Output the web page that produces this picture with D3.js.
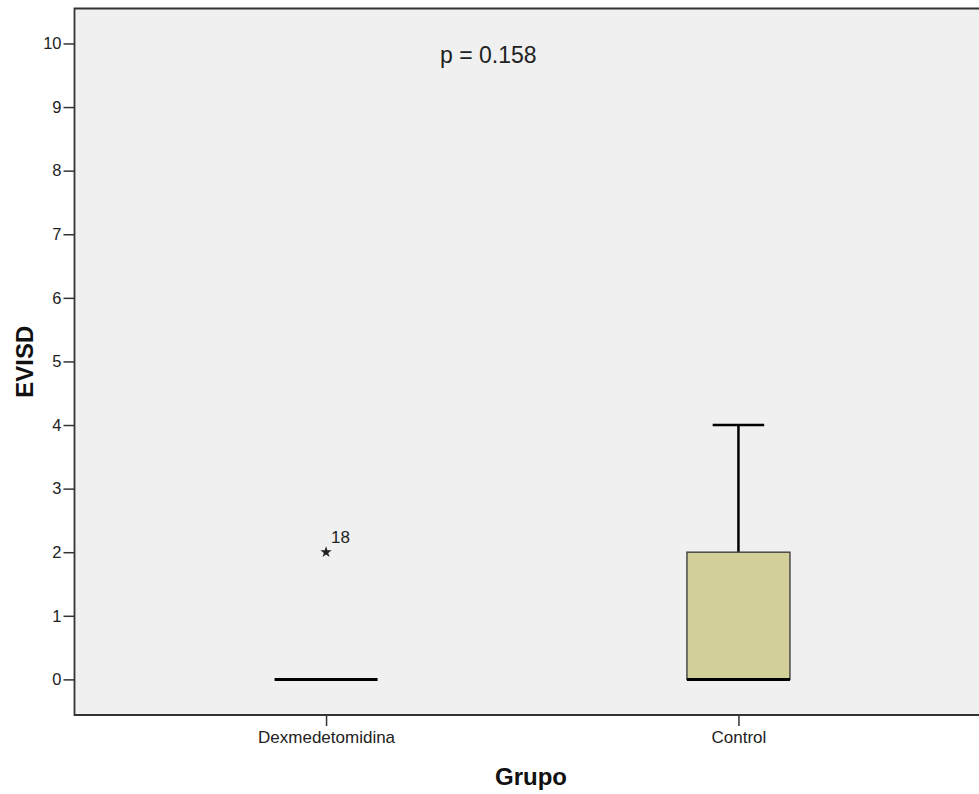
<!DOCTYPE html>
<html>
<head>
<meta charset="utf-8">
<script src="https://cdn.jsdelivr.net/npm/d3@7/dist/d3.min.js"></script>
<style>
  html, body { margin: 0; padding: 0; background: #ffffff; }
  svg { display: block; font-family: "Liberation Sans", Arial, sans-serif; }
</style>
</head>
<body>
<svg id="chart" width="979" height="794"></svg>
<script>
// Groups and their box-plot summaries (EVISD score)
const groups = ["Dexmedetomidina", "Control"];
const q1 = [0, 0];
const median = [0, 0];
const q3 = [0, 2];
const whiskerLow = [0, 0];
const whiskerHigh = [0, 4];
// Extreme values (group, value, case label)
const extremeGroup = ["Dexmedetomidina"];
const extremeValue = [2];
const extremeLabel = ["18"];
const yTicks = [0, 1, 2, 3, 4, 5, 6, 7, 8, 9, 10];
const pText = "p = 0.158";

const svg = d3.select("#chart");
const plot = { left: 74.5, top: 8.5, right: 990, bottom: 715 };

const x = d3.scalePoint().domain(groups).range([plot.left, plot.right]).padding(0.61);
const y = d3.scaleLinear().domain([-0.56, 10.55]).range([plot.bottom, plot.top]);

// plot background
svg.append("rect")
  .attr("x", plot.left).attr("y", plot.top)
  .attr("width", plot.right - plot.left).attr("height", plot.bottom - plot.top)
  .attr("fill", "#f0f0f0");

const boxW = 103;

groups.forEach((g, i) => {
  const cx = x(g);
  // whiskers with end caps
  if (whiskerHigh[i] > q3[i]) {
    svg.append("line").attr("x1", cx).attr("x2", cx)
      .attr("y1", y(q3[i])).attr("y2", y(whiskerHigh[i]))
      .attr("stroke", "#000").attr("stroke-width", 2.5);
    svg.append("line").attr("x1", cx - boxW / 4).attr("x2", cx + boxW / 4)
      .attr("y1", y(whiskerHigh[i])).attr("y2", y(whiskerHigh[i]))
      .attr("stroke", "#000").attr("stroke-width", 2.5);
  }
  if (whiskerLow[i] < q1[i]) {
    svg.append("line").attr("x1", cx).attr("x2", cx)
      .attr("y1", y(q1[i])).attr("y2", y(whiskerLow[i]))
      .attr("stroke", "#000").attr("stroke-width", 2.5);
    svg.append("line").attr("x1", cx - boxW / 4).attr("x2", cx + boxW / 4)
      .attr("y1", y(whiskerLow[i])).attr("y2", y(whiskerLow[i]))
      .attr("stroke", "#000").attr("stroke-width", 2.5);
  }
  // interquartile box
  if (q3[i] > q1[i]) {
    svg.append("rect")
      .attr("x", cx - boxW / 2).attr("y", y(q3[i]))
      .attr("width", boxW).attr("height", y(q1[i]) - y(q3[i]))
      .attr("fill", "#d3cf99").attr("stroke", "#4a4a4a").attr("stroke-width", 1.5);
  }
  // median
  svg.append("line")
    .attr("x1", cx - boxW / 2).attr("x2", cx + boxW / 2)
    .attr("y1", y(median[i])).attr("y2", y(median[i]))
    .attr("stroke", "#000").attr("stroke-width", 3);
});

// extreme values marked with a star
extremeGroup.forEach((g, i) => {
  const cx = x(g), cy = y(extremeValue[i]);
  svg.append("path")
    .attr("d", d3.symbol(d3.symbolStar, 40)())
    .attr("transform", `translate(${cx},${cy})`)
    .attr("fill", "#222");
  svg.append("text")
    .attr("x", cx + 5).attr("y", cy - 9)
    .attr("font-size", 17).attr("fill", "#222")
    .text(extremeLabel[i]);
});

// y axis
const yAxis = svg.append("g").attr("transform", `translate(${plot.left},0)`)
  .call(d3.axisLeft(y).tickValues(yTicks).tickSize(11).tickPadding(2).tickFormat(d3.format("d")));
yAxis.select(".domain").remove();
yAxis.selectAll(".tick line").attr("stroke", "#333").attr("stroke-width", 1.5);
yAxis.selectAll(".tick text").attr("font-size", 16.5).attr("fill", "#222")
  .attr("font-family", "Liberation Sans, Arial, sans-serif");

// x axis
const xAxis = svg.append("g").attr("transform", `translate(0,${plot.bottom})`)
  .call(d3.axisBottom(x).tickSize(11).tickPadding(5));
xAxis.select(".domain").remove();
xAxis.selectAll(".tick line").attr("stroke", "#333").attr("stroke-width", 1.5);
xAxis.selectAll(".tick text").attr("font-size", 17).attr("fill", "#222")
  .attr("font-family", "Liberation Sans, Arial, sans-serif");

// frame lines (left, top, bottom)
svg.append("path")
  .attr("d", `M${plot.right},${plot.top}H${plot.left}V${plot.bottom}H${plot.right}`)
  .attr("fill", "none").attr("stroke", "#333").attr("stroke-width", 1.8);

// p-value annotation
svg.append("text")
  .attr("x", 440).attr("y", 63)
  .attr("font-size", 23).attr("fill", "#222")
  .text(pText);

// axis titles
svg.append("text")
  .attr("transform", `translate(33,${(plot.top + plot.bottom) / 2}) rotate(-90)`)
  .attr("text-anchor", "middle")
  .attr("font-size", 24).attr("font-weight", "bold").attr("fill", "#111")
  .text("EVISD");
svg.append("text")
  .attr("x", 531).attr("y", 785)
  .attr("text-anchor", "middle")
  .attr("font-size", 24).attr("font-weight", "bold").attr("fill", "#111")
  .text("Grupo");
</script>
</body>
</html>
